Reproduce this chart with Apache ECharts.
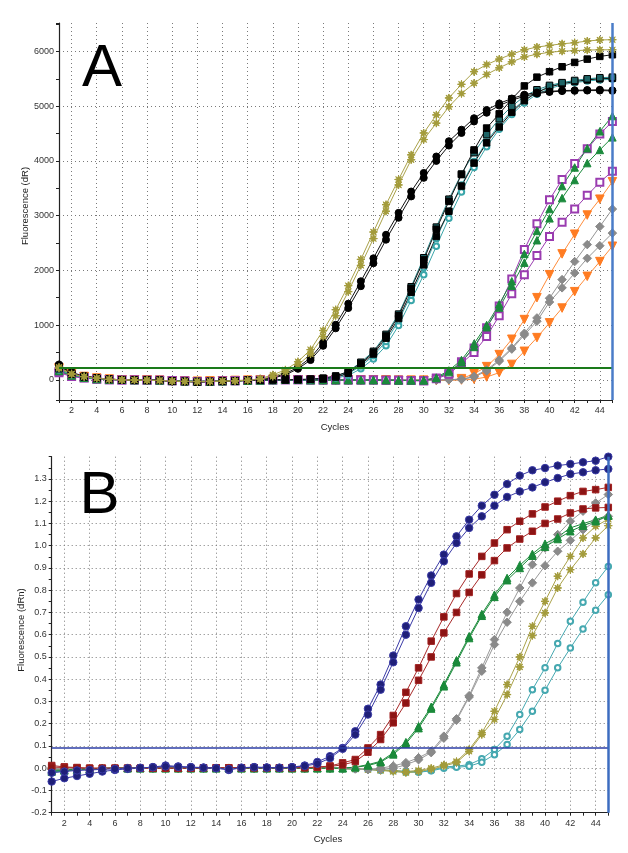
<!DOCTYPE html>
<html><head><meta charset="utf-8">
<script src="https://cdn.jsdelivr.net/npm/echarts/dist/echarts.min.js"></script>
<style>html,body{margin:0;padding:0;background:#fff}#c{width:628px;height:853px}</style>
</head><body><div id="c"></div><script>
// ---------- DATA ----------
const cycles = [1,2,3,4,5,6,7,8,9,10,11,12,13,14,15,16,17,18,19,20,21,22,23,24,25,26,27,28,29,30,31,32,33,34,35,36,37,38,39,40,41,42,43,44,45];
const xTickLabelsEven = [2,4,6,8,10,12,14,16,18,20,22,24,26,28,30,32,34,36,38,40,42,44];
const thresholdA = 214;
const thresholdB = 0.092;
const endCycle = 45;

// Panel A (Fluorescence dR)
const aOlive1 = [230,110,60,30,10,0,-5,-5,-10,-25,-30,-35,-30,-25,-20,-10,20,90,180,330,550,900,1280,1720,2200,2700,3200,3660,4110,4510,4840,5150,5400,5630,5760,5860,5950,6030,6080,6110,6140,6160,6190,6210,6215];
const aOlive2 = [210,100,55,25,5,-5,-5,-10,-15,-25,-30,-30,-30,-25,-20,-10,10,60,140,270,470,790,1170,1610,2090,2580,3080,3560,4020,4390,4690,4990,5230,5420,5580,5700,5810,5900,5950,5985,6005,6015,6025,6030,6030];
const aBlackC1 = [280,130,70,35,10,0,-5,-5,-10,-30,-30,-40,-35,-25,-20,-10,5,40,110,230,400,675,1005,1390,1800,2220,2650,3050,3440,3780,4080,4360,4570,4780,4930,5050,5140,5210,5250,5270,5285,5290,5295,5300,5290];
const aBlackC2 = [260,120,65,30,10,0,-5,-10,-10,-30,-35,-40,-35,-30,-20,-10,0,30,90,200,360,620,940,1310,1710,2130,2560,2960,3350,3690,4000,4280,4510,4720,4880,5010,5110,5180,5230,5260,5275,5280,5285,5285,5280];
const aBlackS1 = [240,120,60,30,10,0,-5,-5,-10,-25,-30,-35,-30,-25,-20,-10,-5,0,0,5,10,30,70,150,300,500,800,1170,1670,2190,2750,3260,3750,4200,4600,4860,5130,5370,5530,5630,5720,5800,5860,5910,5940];
const aTealS = [200,100,50,25,5,0,-5,-5,-10,-20,-30,-30,-30,-25,-20,-10,-5,0,0,5,10,20,60,150,320,520,830,1200,1700,2230,2790,3300,3760,4150,4480,4770,5000,5180,5300,5380,5430,5470,5500,5520,5530];
const aBlackS2 = [250,120,60,30,10,0,-5,-10,-10,-25,-30,-40,-35,-25,-20,-10,-5,0,0,0,5,15,50,120,280,470,760,1120,1600,2100,2620,3080,3540,3960,4330,4620,4890,5100,5250,5350,5410,5450,5480,5500,5510];
const aTealC1 = [180,90,50,20,5,0,-5,-5,-10,-20,-25,-30,-30,-25,-20,-10,-5,0,0,0,0,10,30,80,200,380,620,990,1450,1920,2440,2950,3430,3880,4260,4580,4850,5060,5220,5320,5390,5430,5460,5480,5490];
const aTealC2 = [190,95,50,25,5,0,-5,-5,-10,-20,-30,-30,-30,-25,-20,-10,-5,0,0,0,0,10,40,110,250,440,700,1080,1550,2050,2580,3080,3560,3990,4350,4660,4920,5110,5260,5360,5420,5460,5490,5510,5520];
const aPurple1 = [130,60,30,10,0,-5,-5,-10,-10,-20,-25,-30,-30,-25,-20,-15,-10,-5,0,0,-5,-5,-5,-5,-5,-5,-10,-10,-15,-20,30,120,330,580,950,1350,1840,2380,2850,3290,3660,3950,4220,4490,4720];
const aPurple2 = [150,70,35,15,0,-5,-5,-10,-10,-20,-25,-30,-30,-25,-20,-15,-10,-5,0,0,-5,-5,-5,-5,-5,-5,-10,-10,-15,-20,20,100,300,500,790,1170,1570,1920,2270,2620,2880,3120,3370,3610,3810];
const aGreen1 = [160,80,40,15,5,0,-5,-5,-10,-20,-25,-30,-30,-25,-20,-15,-10,-5,0,0,-5,-5,-5,-5,-5,-5,-5,-10,-10,-10,40,170,360,660,1000,1380,1800,2300,2720,3120,3540,3880,4230,4540,4820];
const aGreen2 = [170,85,40,15,5,0,-5,-5,-10,-20,-25,-30,-30,-25,-20,-15,-10,-5,0,0,-5,-5,-5,-5,-5,-5,-5,-10,-10,-10,30,140,320,600,960,1320,1720,2140,2550,2950,3320,3650,3960,4200,4430];
const aOrange1 = [220,110,60,30,10,0,-5,-5,-10,-20,-25,-30,-25,-20,-15,-10,-5,-5,0,0,0,-5,-5,-5,-5,-5,-5,-10,-10,-10,-10,-5,20,110,240,460,740,1100,1500,1920,2300,2660,3010,3300,3620];
const aOrange2 = [200,100,55,25,10,0,-5,-5,-10,-20,-25,-30,-25,-20,-15,-10,-5,-5,0,0,0,-5,-5,-5,-5,-5,-5,-10,-10,-10,-10,-10,-5,10,50,130,280,520,770,1040,1310,1610,1890,2160,2440];
const aGray1 = [190,95,50,20,5,0,-5,-5,-10,-20,-25,-30,-25,-20,-15,-10,-5,-5,0,0,0,-5,-5,-5,-5,-5,-5,-10,-10,-10,-5,0,10,60,180,360,580,850,1130,1490,1830,2160,2470,2800,3120];
const aGray2 = [180,90,45,20,5,0,-5,-5,-10,-20,-25,-30,-25,-20,-15,-10,-5,-5,0,0,0,-5,-5,-5,-5,-5,-5,-10,-10,-10,-5,0,5,50,160,340,560,820,1070,1420,1680,1950,2220,2450,2680];

// Panel B (Fluorescence dRn)
const bNavy1 = [-0.06,-0.045,-0.035,-0.025,-0.015,-0.008,-0.003,0.0,0.005,0.012,0.008,0.005,0.003,0.0,-0.008,0.002,0.005,0.003,0.002,0.005,0.012,0.028,0.054,0.091,0.166,0.267,0.376,0.506,0.638,0.758,0.866,0.96,1.042,1.117,1.18,1.229,1.277,1.315,1.339,1.349,1.36,1.367,1.375,1.382,1.40];
const bNavy2 = [-0.02,-0.015,-0.01,-0.008,-0.005,-0.003,0.0,0.002,0.004,0.008,0.006,0.004,0.002,0.0,-0.004,0.002,0.004,0.003,0.002,0.004,0.01,0.02,0.045,0.087,0.151,0.241,0.353,0.476,0.60,0.72,0.833,0.93,1.012,1.08,1.132,1.18,1.219,1.244,1.262,1.285,1.304,1.322,1.33,1.339,1.345];
const bRed1 = [0.012,0.006,0.003,0.0,0.0,0.0,0.0,0.0,0.0,0.0,0.0,0.0,0.002,0.002,0.002,0.002,0.002,0.002,0.002,0.002,0.003,0.005,0.01,0.024,0.039,0.091,0.151,0.237,0.341,0.451,0.571,0.68,0.785,0.873,0.952,1.012,1.072,1.11,1.143,1.174,1.20,1.225,1.244,1.252,1.262];
const bRed2 = [0.005,0.003,0.001,0.0,0.0,0.0,0.0,0.0,0.0,0.0,0.0,0.0,0.002,0.002,0.002,0.002,0.002,0.002,0.002,0.002,0.002,0.004,0.008,0.015,0.03,0.072,0.129,0.204,0.293,0.395,0.50,0.608,0.70,0.79,0.869,0.933,0.99,1.03,1.065,1.10,1.12,1.147,1.165,1.17,1.172];
const bGreen1 = [-0.01,-0.008,-0.005,-0.003,0.0,0.0,0.0,0.0,0.0,0.0,0.0,0.0,0.0,0.0,0.0,0.0,0.0,0.0,0.0,0.0,0.0,0.0,0.0,0.0,0.005,0.016,0.031,0.069,0.117,0.189,0.276,0.376,0.485,0.593,0.693,0.78,0.855,0.912,0.963,1.009,1.039,1.08,1.099,1.117,1.137];
const bGreen2 = [-0.015,-0.01,-0.006,-0.003,0.0,0.0,0.0,0.0,0.0,0.0,0.0,0.0,0.0,0.0,0.0,0.0,0.0,0.0,0.0,0.0,0.0,0.0,0.0,0.0,0.004,0.012,0.027,0.062,0.11,0.18,0.268,0.368,0.476,0.585,0.685,0.77,0.845,0.90,0.955,0.995,1.03,1.065,1.09,1.11,1.135];
const bGray1 = [0.0,-0.004,-0.004,-0.003,-0.002,0.0,0.0,0.0,0.0,0.0,0.0,0.0,0.0,0.0,0.0,0.0,0.0,0.0,0.0,0.0,0.0,0.0,0.0,0.0,-0.003,-0.005,0.0,0.01,0.025,0.047,0.076,0.144,0.222,0.326,0.451,0.578,0.701,0.81,0.915,0.99,1.05,1.11,1.155,1.192,1.23];
const bGray2 = [-0.005,-0.005,-0.004,-0.003,-0.002,0.0,0.0,0.0,0.0,0.0,0.0,0.0,0.0,0.0,0.0,0.0,0.0,0.0,0.0,0.0,0.0,0.0,0.0,0.0,-0.003,-0.005,-0.005,0.0,0.015,0.038,0.07,0.135,0.215,0.32,0.436,0.556,0.656,0.75,0.833,0.91,0.975,1.024,1.072,1.11,1.132];
const bOlive1 = [0.0,-0.005,-0.005,-0.003,-0.002,0.0,0.0,0.0,0.0,0.0,0.0,0.0,0.0,0.0,0.0,0.0,0.0,0.0,0.0,0.0,0.0,0.0,0.0,-0.002,-0.003,-0.005,-0.008,-0.01,-0.015,-0.01,0.0,0.015,0.03,0.084,0.159,0.256,0.376,0.50,0.638,0.75,0.863,0.952,1.035,1.087,1.12];
const bOlive2 = [-0.005,-0.005,-0.005,-0.003,-0.002,0.0,0.0,0.0,0.0,0.0,0.0,0.0,0.0,0.0,0.0,0.0,0.0,0.0,0.0,0.0,0.0,0.0,0.0,-0.002,-0.004,-0.006,-0.01,-0.015,-0.02,-0.015,-0.005,0.01,0.025,0.076,0.151,0.219,0.331,0.455,0.596,0.698,0.81,0.892,0.963,1.035,1.09];
const bTeal1 = [-0.02,-0.012,-0.008,-0.005,-0.003,0.0,0.0,0.0,0.0,0.0,0.0,0.0,0.0,0.0,0.0,0.0,0.0,0.0,0.0,0.0,0.0,0.0,0.0,-0.002,-0.003,-0.005,-0.008,-0.01,-0.015,-0.015,-0.01,0.006,0.009,0.016,0.042,0.084,0.144,0.241,0.353,0.451,0.56,0.66,0.746,0.833,0.907];
const bTeal2 = [-0.015,-0.01,-0.006,-0.004,-0.002,0.0,0.0,0.0,0.0,0.0,0.0,0.0,0.0,0.0,0.0,0.0,0.0,0.0,0.0,0.0,0.0,0.0,0.0,-0.002,-0.004,-0.006,-0.009,-0.012,-0.018,-0.018,-0.012,0.0,0.004,0.009,0.027,0.061,0.106,0.174,0.256,0.35,0.451,0.54,0.626,0.71,0.78];

// ---------- STYLE ----------
const FONT = '"Liberation Sans", Arial, sans-serif';
function starPath(n, ro, ri) {
  let d = '';
  for (let i = 0; i < 2 * n; i++) {
    const r = i % 2 ? ri : ro;
    const a = Math.PI * i / n - Math.PI / 2;
    d += (i ? 'L' : 'M') + (r * Math.cos(a)).toFixed(3) + ',' + (r * Math.sin(a)).toFixed(3);
  }
  return 'path://' + d + 'Z';
}
const STAR = starPath(8, 10, 4);

function ser(name, data, panel, st) {
  return {
    name: name, type: 'line',
    xAxisIndex: panel * 2, yAxisIndex: panel * 2,
    data: cycles.map((c, i) => [c, data[i]]),
    symbol: st.symbol, symbolSize: st.size, symbolRotate: st.rotate || 0,
    itemStyle: { color: st.color, borderColor: st.border || st.color, borderWidth: st.bw == null ? 1 : st.bw },
    lineStyle: { color: st.line || st.color, width: 1 },
    animation: false, silent: true, z: st.z || 2
  };
}
const S = {
  olive:  { symbol: STAR, size: 8, color: '#a39b3a', line: '#aaa24a' },
  blackC: { symbol: 'circle', size: 7, color: '#000', line: '#111' },
  blackS: { symbol: 'rect', size: 6.5, color: '#000', line: '#111' },
  tealS:  { symbol: 'rect', size: 6.5, color: '#1e6466', border: '#000', line: '#2a8a8c' },
  tealC:  { symbol: 'emptyCircle', size: 5.5, color: '#3aa6aa', line: '#3aa6aa' },
  purple: { symbol: 'emptyRect', size: 7, color: '#9a3cb0', line: '#9a3cb0' },
  green:  { symbol: 'triangle', size: 7.5, color: '#1b8a3c', line: '#1b8a3c' },
  orange: { symbol: 'triangle', size: 8.5, rotate: 180, color: '#ff7c22', line: '#ff8c3a' },
  gray:   { symbol: 'diamond', size: 8.5, color: '#8a8a8a', line: '#959595' },
  navy:   { symbol: 'circle', size: 7.5, color: '#1f1f78', border: '#3a3aa6', line: '#3a3aa6' },
  red:    { symbol: 'rect', size: 6.5, color: '#8c1414', border: '#a02020', line: '#a82a2a' },
  greenB: { symbol: 'triangle', size: 7.5, color: '#1a8a3a', line: '#1a8a3a' },
  grayB:  { symbol: 'diamond', size: 8.5, color: '#8a8a8a', line: '#999' },
  oliveB: { symbol: STAR, size: 8, color: '#a39b3a', line: '#aaa24a' },
  tealB:  { symbol: 'emptyCircle', size: 5.5, color: '#45a8b0', line: '#45a8b0' }
};

const series = [
  ser('A orange 1', aOrange1, 0, S.orange), ser('A orange 2', aOrange2, 0, S.orange),
  ser('A gray 1', aGray1, 0, S.gray), ser('A gray 2', aGray2, 0, S.gray),
  ser('A purple 1', aPurple1, 0, S.purple), ser('A purple 2', aPurple2, 0, S.purple),
  ser('A green 1', aGreen1, 0, S.green), ser('A green 2', aGreen2, 0, S.green),
  ser('A teal c1', aTealC1, 0, S.tealC), ser('A teal c2', aTealC2, 0, S.tealC),
  ser('A black s2', aBlackS2, 0, S.blackS), ser('A teal s', aTealS, 0, S.tealS),
  ser('A black s1', aBlackS1, 0, S.blackS),
  ser('A black c2', aBlackC2, 0, S.blackC), ser('A black c1', aBlackC1, 0, S.blackC),
  ser('A olive 2', aOlive2, 0, S.olive), ser('A olive 1', aOlive1, 0, S.olive),

  ser('B teal 1', bTeal1, 1, S.tealB), ser('B teal 2', bTeal2, 1, S.tealB),
  ser('B olive 1', bOlive1, 1, S.oliveB), ser('B olive 2', bOlive2, 1, S.oliveB),
  ser('B gray 1', bGray1, 1, S.grayB), ser('B gray 2', bGray2, 1, S.grayB),
  ser('B green 1', bGreen1, 1, S.greenB), ser('B green 2', bGreen2, 1, S.greenB),
  ser('B red 1', bRed1, 1, S.red), ser('B red 2', bRed2, 1, S.red),
  ser('B navy 1', bNavy1, 1, S.navy), ser('B navy 2', bNavy2, 1, S.navy)
];
// threshold + end-cycle marker lines
series[0].markLine = { silent: true, symbol: 'none', label: { show: false }, animation: false,
  data: [ { yAxis: thresholdA, lineStyle: { color: '#1a7a1a', width: 2, type: 'solid' } },
          { xAxis: endCycle, lineStyle: { color: '#4a7cc8', width: 2.5, type: 'solid' } } ] };
series[17].markLine = { silent: true, symbol: 'none', label: { show: false }, animation: false,
  data: [ { yAxis: thresholdB, lineStyle: { color: '#2c3ea6', width: 1.5, type: 'solid' } },
          { xAxis: endCycle, lineStyle: { color: '#3c6cc0', width: 2.5, type: 'solid' } } ] };

const gridLine = { show: true, showMinLine: false, showMaxLine: false, lineStyle: { color: '#7a7a7a', width: 1, type: [1, 3] } };
const axisLineS = { show: true, onZero: false, lineStyle: { color: '#222', width: 1.2 } };
const tickS = { show: true, length: 3, lineStyle: { color: '#222' } };
const lblS = { color: '#333', fontSize: 9, fontFamily: FONT };

function xMain(g) {
  return { type: 'value', gridIndex: g, min: 1, max: 45, interval: 1, position: 'bottom',
    axisLine: axisLineS, axisTick: tickS, splitLine: { show: false },
    axisLabel: Object.assign({ margin: 6, formatter: v => (xTickLabelsEven.indexOf(v) >= 0 ? String(v) : '') }, lblS) };
}
function xGrid(g) {
  return { type: 'value', gridIndex: g, min: 1, max: 45, minInterval: 2, maxInterval: 2, position: 'top',
    axisLine: { show: false }, axisTick: { show: false }, axisLabel: { show: false }, splitLine: gridLine };
}

const option = {
  backgroundColor: '#fff',
  animation: false,
  grid: [
    { left: 59, top: 23, right: 15.6, bottom: 453 },
    { left: 51.7, top: 456.7, right: 19.7, bottom: 40.3 }
  ],
  xAxis: [ xMain(0), xGrid(0), xMain(1), xGrid(1) ],
  yAxis: [
    { type: 'value', gridIndex: 0, min: -370, max: 6520, minInterval: 500, maxInterval: 500, splitNumber: 14,
      axisLine: axisLineS, axisTick: tickS, splitLine: { show: false },
      axisLabel: Object.assign({ margin: 5, formatter: v => (v % 1000 === 0 && v >= 0 ? String(v) : '') }, lblS) },
    { type: 'value', gridIndex: 0, min: -370, max: 6520, minInterval: 1000, maxInterval: 1000, splitNumber: 7,
      axisLine: { show: false }, axisTick: { show: false }, axisLabel: { show: false }, splitLine: gridLine },
    { type: 'value', gridIndex: 1, min: -0.2, max: 1.4, interval: 0.05,
      axisLine: axisLineS, axisTick: tickS, splitLine: { show: false },
      axisLabel: Object.assign({ margin: 5, formatter: v => { const k = Math.round(v * 100); return (k % 10 === 0 && k < 140) ? (k / 100).toFixed(1) : ''; } }, lblS) },
    { type: 'value', gridIndex: 1, min: -0.2, max: 1.4, interval: 0.1,
      axisLine: { show: false }, axisTick: { show: false }, axisLabel: { show: false }, splitLine: gridLine }
  ],
  graphic: [
    { type: 'text', x: 102, y: 69, z: 100, style: { text: 'A', fill: '#000', font: '60px ' + FONT, align: 'center', verticalAlign: 'middle', textAlign: 'center', textVerticalAlign: 'middle' } },
    { type: 'text', x: 99.5, y: 496, z: 100, style: { text: 'B', fill: '#000', font: '60px ' + FONT, align: 'center', verticalAlign: 'middle', textAlign: 'center', textVerticalAlign: 'middle' } },
    { type: 'text', x: 25, y: 206, rotation: Math.PI / 2, style: { text: 'Fluorescence (dR)', fill: '#222', font: '9.5px ' + FONT, align: 'center', verticalAlign: 'middle', textAlign: 'center', textVerticalAlign: 'middle' } },
    { type: 'text', x: 21, y: 630, rotation: Math.PI / 2, style: { text: 'Fluorescence (dRn)', fill: '#222', font: '9.5px ' + FONT, align: 'center', verticalAlign: 'middle', textAlign: 'center', textVerticalAlign: 'middle' } },
    { type: 'text', x: 335, y: 427, style: { text: 'Cycles', fill: '#222', font: '9.5px ' + FONT, align: 'center', verticalAlign: 'middle', textAlign: 'center', textVerticalAlign: 'middle' } },
    { type: 'text', x: 328, y: 839, style: { text: 'Cycles', fill: '#222', font: '9.5px ' + FONT, align: 'center', verticalAlign: 'middle', textAlign: 'center', textVerticalAlign: 'middle' } }
  ],
  series: series
};
const chart = echarts.init(document.getElementById('c'), null, { renderer: 'canvas' });
chart.setOption(option);
</script></body></html>
